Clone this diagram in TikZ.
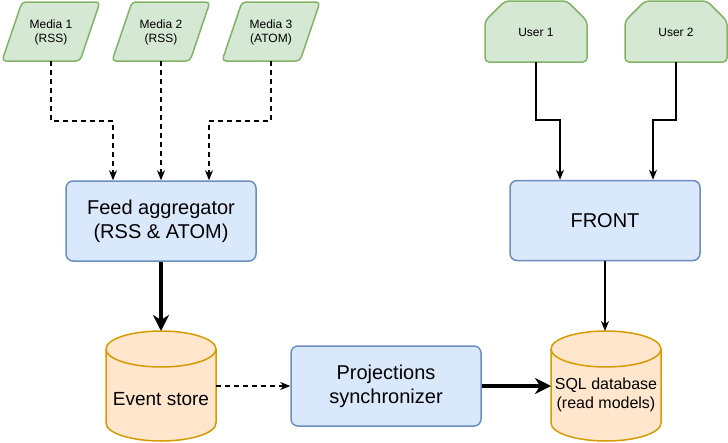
\documentclass[tikz,border=0pt]{standalone}
\usepackage{fontspec}
\setmainfont{Liberation Sans}
\usetikzlibrary{arrows.meta,calc}
\definecolor{gfill}{HTML}{D5E8D4}
\definecolor{gline}{HTML}{82B366}
\definecolor{bfill}{HTML}{DAE8FC}
\definecolor{bline}{HTML}{6C8EBF}
\definecolor{ofill}{HTML}{FFE6CC}
\definecolor{oline}{HTML}{D79B00}
\begin{document}
\begin{tikzpicture}[x=1pt,y=1pt,
  greenshape/.style={draw=gline,fill=gfill,line width=1.5pt,rounded corners=4pt},
  cylshape/.style={draw=oline,fill=ofill,line width=1.5pt},
  bluebox/.style={draw=bline,fill=bfill,line width=1.5pt,rounded corners=7pt,
    minimum width=190pt,minimum height=80pt,align=center,inner sep=0pt,
    font=\fontsize{20}{24}\selectfont},
  smalltext/.style={align=center,inner sep=0pt,font=\fontsize{12}{14}\selectfont},
  holder/.style={inner sep=0pt,outer sep=0pt},
  thinarrow/.style={line width=1.4pt,-{Stealth[length=10pt,width=8pt,inset=3pt]}},
  dasharrow/.style={thinarrow,dash pattern=on 5pt off 4pt},
  thickarrow/.style={line width=3.5pt,-{Stealth[length=16pt,width=16pt,inset=5pt]}}
]
\useasboundingbox (0,0) rectangle (728,-442);

% Media parallelograms
\path[greenshape] (2,-61) -- (22,-2) -- (100,-2) -- (80,-61) -- cycle;
\path[greenshape] (112,-61) -- (132,-2) -- (210,-2) -- (190,-61) -- cycle;
\path[greenshape] (222,-61) -- (242,-2) -- (320,-2) -- (300,-61) -- cycle;
\node[holder,minimum width=78pt,minimum height=59pt] (m1) at (51,-31.5) {};
\node[holder,minimum width=78pt,minimum height=59pt] (m2) at (161,-31.5) {};
\node[holder,minimum width=78pt,minimum height=59pt] (m3) at (271,-31.5) {};
\node[smalltext] (m1t) at (51,-32) {Media 1\\(RSS)};
\node[smalltext] (m2t) at (161,-32) {Media 2\\(RSS)};
\node[smalltext] (m3t) at (271,-32) {Media 3\\(ATOM)};

% Users
\path[greenshape] (485,-62) -- (485,-21) -- (505,-1) -- (567,-1) -- (587,-21) -- (587,-62) -- cycle;
\path[greenshape] (625,-62) -- (625,-21) -- (645,-1) -- (707,-1) -- (727,-21) -- (727,-62) -- cycle;
\node[holder,minimum width=102pt,minimum height=61pt] (u1) at (536,-31.5) {};
\node[holder,minimum width=102pt,minimum height=61pt] (u2) at (676,-31.5) {};
\node[smalltext] (u1t) at (536,-32) {User 1};
\node[smalltext] (u2t) at (676,-32) {User 2};

% Blue boxes
\node[bluebox] (fa) at (161,-221) {Feed aggregator\\(RSS \& ATOM)};
\node[bluebox] (fr) at (605,-220.5) {FRONT};
\node[bluebox] (ps) at (386,-386) {Projections\\synchronizer};

% Cylinders
\path[cylshape] (106,-349) -- (106,-423) arc[start angle=180,end angle=360,x radius=55pt,y radius=18pt]
  -- (216,-349) arc[start angle=0,end angle=180,x radius=55pt,y radius=18pt] -- cycle;
\draw[draw=oline,line width=1.5pt] (106,-349) arc[start angle=180,end angle=360,x radius=55pt,y radius=18pt];
\path[cylshape] (551,-349) -- (551,-423) arc[start angle=180,end angle=360,x radius=55pt,y radius=18pt]
  -- (661,-349) arc[start angle=0,end angle=180,x radius=55pt,y radius=18pt] -- cycle;
\draw[draw=oline,line width=1.5pt] (551,-349) arc[start angle=180,end angle=360,x radius=55pt,y radius=18pt];
\node[holder,minimum width=110pt,minimum height=110pt] (es) at (161,-386) {};
\node[holder,minimum width=110pt,minimum height=110pt] (sql) at (606,-386) {};
\node[align=center,inner sep=0pt,font=\fontsize{19}{23}\selectfont] (est) at (161,-399) {Event store};
\node[align=center,inner sep=0pt,font=\fontsize{16}{19}\selectfont] (sqlt) at (606,-395) {SQL database\\(read models)};

% Connectors
\draw[dasharrow] (m1.south) -- (m1.south |- 0,-121) -| ([xshift=-48pt]fa.north);
\draw[dasharrow] (m2.south) -- (fa.north);
\draw[dasharrow] (m3.south) -- (m3.south |- 0,-121) -| ([xshift=48pt]fa.north);
\draw[thinarrow] (u1.south) -- (u1.south |- 0,-120) -| ([xshift=-45pt]fr.north);
\draw[thinarrow] (u2.south) -- (u2.south |- 0,-120) -| ([xshift=48pt]fr.north);
\draw[thinarrow] (fr.south) -- (fr.south |- sql.north);
\draw[thickarrow] (fa.south) -- (es.north);
\draw[dasharrow] (es.east) -- (ps.west);
\draw[thickarrow] (ps.east) -- (sql.west);
\end{tikzpicture}
\end{document}
